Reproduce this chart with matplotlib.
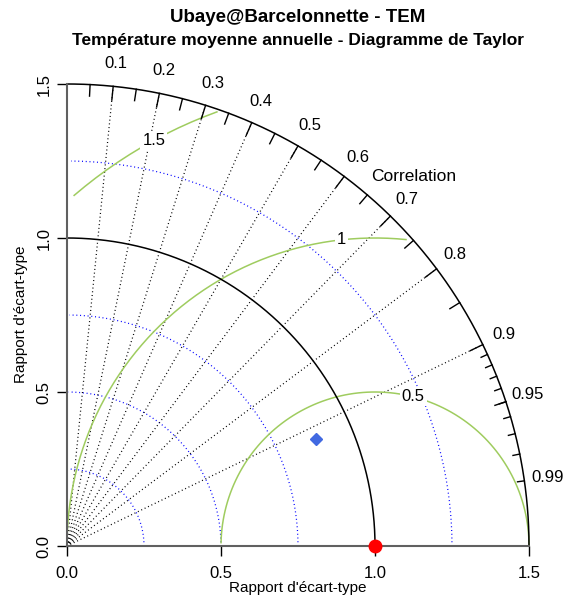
import numpy as np
import matplotlib
matplotlib.use("Agg")
import matplotlib.pyplot as plt

plt.rcParams['font.family'] = ['Liberation Sans', 'DejaVu Sans']

# données du diagramme (écarts-types normalisés)
max_sd = 1.5
ref_sd = 1.0
model_sd = 0.88
model_corr = 0.918
corr_big = [0.1, 0.2, 0.3, 0.4, 0.5, 0.6, 0.7, 0.8, 0.9]
corr_med = [0.05, 0.15, 0.25, 0.35, 0.45, 0.55, 0.65, 0.75, 0.85, 0.95]
corr_small = [0.91, 0.92, 0.93, 0.94, 0.95, 0.96, 0.97, 0.98, 0.99]
corr_labels = [0.1, 0.2, 0.3, 0.4, 0.5, 0.6, 0.7, 0.8, 0.9, 0.95, 0.99]
gamma_levels = [0.5, 1.0, 1.5]
gamma_labels = ["0.5", "1", "1.5"]
sd_arcs = [0.25, 0.5, 0.75, 1.25]
axis_ticks = [0.0, 0.5, 1.0, 1.5]
axis_ticklabels = ["0.0", "0.5", "1.0", "1.5"]

W, H = 571, 598
fig = plt.figure(figsize=(W / 100, H / 100), dpi=100)
ax = fig.add_axes([67 / W, (H - 546) / H, 462 / W, 462 / H])
ax.set_xlim(0, max_sd)
ax.set_ylim(0, max_sd)

green = '#9fcc5f'
axcol = '#606060'

# arcs d'écart-type (pointillés bleus)
t = np.arange(0, np.pi / 2, 0.03)
for r in sd_arcs:
    ax.plot(np.cos(t) * r, np.sin(t) * r, color='blue', lw=0.9,
            linestyle=(0, (0.8, 2.2)), clip_on=False, zorder=2)

# arc de référence et arc extérieur
tt = np.linspace(0, np.pi / 2, 300)
ax.plot(np.cos(tt) * ref_sd, np.sin(tt) * ref_sd, color='black', lw=1.1, clip_on=False, zorder=3)
ax.plot(np.cos(tt) * max_sd, np.sin(tt) * max_sd, color='black', lw=1.1, clip_on=False, zorder=3)

# lignes de corrélation
for c in corr_big:
    a = np.arccos(c)
    ax.plot([0, np.cos(a) * max_sd], [0, np.sin(a) * max_sd], color='black', lw=0.9,
            linestyle=(0, (0.8, 2.2)), clip_on=False, zorder=2)

# graduations sur l'arc extérieur
for vals, frac in [(corr_big, 0.97), (corr_med, 0.975), (corr_small, 0.985)]:
    for c in vals:
        a = np.arccos(c)
        ax.plot([np.cos(a) * max_sd, np.cos(a) * max_sd * frac],
                [np.sin(a) * max_sd, np.sin(a) * max_sd * frac],
                color='black', lw=1.0, clip_on=False, zorder=3)

for c in corr_labels:
    a = np.arccos(c)
    ax.text(np.cos(a) * 1.05 * max_sd, np.sin(a) * 1.05 * max_sd, f"{c:g}",
            ha='center', va='center', fontsize=12)
ax.text(1.127, 1.201, "Correlation", ha='center', va='center', fontsize=12.5)

# courbes de RMSD centré (vert)
tg = np.arange(0, np.pi, 0.03)
label_idx = np.linspace(45, 70, len(gamma_levels)).astype(int) - 1
for g, lab, li in zip(gamma_levels, gamma_labels, label_idx):
    xc = np.cos(tg) * g + ref_sd
    yc = np.sin(tg) * g
    keep = (xc >= 0) & (xc ** 2 + yc ** 2 <= max_sd ** 2 + 1e-9)
    ax.plot(xc[keep], yc[keep], color=green, lw=1.1, clip_on=False, zorder=2)
    ax.text(xc[li], yc[li], lab, ha='center', va='center', fontsize=12, zorder=5,
            bbox=dict(facecolor='white', edgecolor='none', pad=1.5))

# axes
for s in ['top', 'right']:
    ax.spines[s].set_visible(False)
for s in ['left', 'bottom']:
    ax.spines[s].set_color(axcol)
    ax.spines[s].set_linewidth(1.5)
    ax.spines[s].set_zorder(4)
ax.set_xticks(axis_ticks)
ax.set_xticklabels(axis_ticklabels)
ax.set_yticks(axis_ticks)
ax.set_yticklabels(axis_ticklabels, rotation=90, va='center')
ax.tick_params(axis='both', direction='out', length=7.2, width=1.0, color='black',
               labelsize=12, pad=7)
ax.tick_params(axis='y', pad=4)

# points
ax.plot(ref_sd, 0, 'o', color='red', ms=9, clip_on=False, zorder=6)
a = np.arccos(model_corr)
ax.plot(model_sd * np.cos(a), model_sd * np.sin(a), 'D', color='#4169e1', ms=6,
        clip_on=False, zorder=6)

fig.text(298 / W, 1 - 588 / H, "Rapport d'écart-type", ha='center', va='center', fontsize=11)
fig.text(21 / W, 1 - 314 / H, "Rapport d'écart-type", ha='center', va='center',
         rotation=90, fontsize=11)
fig.text(298 / W, 1 - 18 / H, "Ubaye@Barcelonnette - TEM", ha='center', va='center',
         fontsize=13.5, fontweight='bold')
fig.text(298 / W, 1 - 40 / H, "Température moyenne annuelle - Diagramme de Taylor",
         ha='center', va='center', fontsize=12.5, fontweight='bold')

fig.savefig("out.png", dpi=100)
